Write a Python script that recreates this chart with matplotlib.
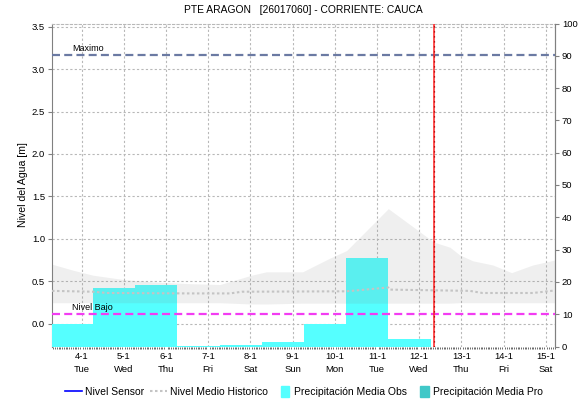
import datetime
import matplotlib
matplotlib.use("Agg")
import matplotlib.pyplot as plt
from matplotlib.lines import Line2D
from matplotlib.patches import Patch, Rectangle
from matplotlib.legend_handler import HandlerPatch
from matplotlib.ticker import MultipleLocator, FixedLocator

plt.rcParams['font.family'] = ['Liberation Sans', 'DejaVu Sans']

# ---- data (x in days of January 2022) ----
station_title = "PTE ARAGON   [26017060] - CORRIENTE: CAUCA"
year, month = 2022, 1
days = [4, 5, 6, 7, 8, 9, 10, 11, 12, 13, 14, 15]

# daily precipitation (mm), each bar starts at the given time and lasts one day
precip_start = [3.27, 4.27, 5.27, 6.27, 7.27, 8.27, 9.27, 10.27, 11.27]
precip_obs = [7.0, 18.2, 18.9, 0.3, 0.6, 1.3, 7.1, 27.3, 2.2]

# historical range of water level (m)
band_t = [3.30, 3.79, 4.27, 4.98, 5.70, 6.57, 7.28, 8.03, 8.38, 9.24, 9.88,
          10.28, 11.27, 12.35, 12.73, 12.96, 13.27, 13.75, 14.19, 14.69, 15.22]
band_hi = [0.70, 0.63, 0.57, 0.52, 0.49, 0.47, 0.46, 0.57, 0.61, 0.61, 0.77,
           0.86, 1.355, 0.96, 0.90, 0.81, 0.74, 0.69, 0.60, 0.69, 0.75]
band_lo = [0.245, 0.245, 0.245, 0.245, 0.245, 0.245, 0.245, 0.23, 0.23, 0.24, 0.24,
           0.24, 0.24, 0.24, 0.24, 0.245, 0.245, 0.245, 0.245, 0.245, 0.245]

# historical mean water level (m)
mean_t = [3.30, 4.27, 4.60, 6.57, 7.52, 7.80, 10.28, 11.27, 11.30, 13.20, 13.50, 14.70, 15.22]
mean_lvl = [0.385, 0.375, 0.36, 0.355, 0.355, 0.375, 0.38, 0.425, 0.40, 0.385, 0.36, 0.36, 0.39]

nivel_maximo = 3.17
nivel_bajo = 0.11
now_t = 12.35

x_range = (3.30, 15.22)
left_lim = (-0.271, 3.538)
right_lim = (0, 100)

# ---- figure ----
fig = plt.figure(figsize=(5.79, 4.01), dpi=100)
W, H = 579, 401
pos = [52 / W, 1 - 346.5 / H, (555 - 52) / W, (346.5 - 23.5) / H]

ax = fig.add_axes(pos)            # level axis (left), grid
axp = ax.twinx()                  # precipitation (right)
axo = ax.twinx()                  # overlay in level units

grid_kw = dict(color='#b8b8b8', lw=0.8, ls=(0, (2, 2)))

ax.set_xlim(*x_range)
ax.set_ylim(*left_lim)
ax.set_yticks([v * 0.5 for v in range(0, 8)])
ax.yaxis.set_major_formatter(matplotlib.ticker.FormatStrFormatter('%.1f'))
ax.grid(True, which='major', **grid_kw)
ax.set_axisbelow(True)

ax.xaxis.set_major_locator(FixedLocator(days))
labels = [f"{d}-{month}\n{datetime.date(year, month, d).strftime('%a')}" for d in days]
ax.set_xticklabels(labels, fontsize=6.8, linespacing=1.55)
ax.xaxis.set_minor_locator(MultipleLocator(1 / 24))
ax.tick_params(axis='x', which='major', length=0, pad=4)
ax.tick_params(axis='x', which='minor', length=1.6, width=0.55, color='#444444', direction='out')
ax.tick_params(axis='y', labelsize=6.8, length=3, width=0.8, color='#808080', pad=2)
ax.set_ylabel("Nivel del Agua [m]", fontsize=7.6, labelpad=2.5)

for side in ('left', 'right'):
    ax.spines[side].set_color('#808080')
ax.spines['bottom'].set_visible(False)
ax.spines['top'].set_color('#b8b8b8')
ax.spines['top'].set_linestyle((0, (2, 2)))
ax.spines['top'].set_linewidth(0.8)

# precipitation bars
axp.set_ylim(*right_lim)
axp.set_yticks(range(0, 101, 10))
axp.tick_params(axis='y', labelsize=6.8, length=3, width=0.8, color='#808080', pad=2)
axp.bar(precip_start, precip_obs, width=1.0, align='edge', color='#55ffff', linewidth=0)
for s in axp.spines.values():
    s.set_visible(False)
axp.spines['right'].set_visible(True)
axp.spines['right'].set_color('#808080')
axp.patch.set_visible(False)

# overlay: historical band, mean, thresholds, current time
axo.set_ylim(*left_lim)
axo.yaxis.set_visible(False)
for s in axo.spines.values():
    s.set_visible(False)
axo.patch.set_visible(False)
axo.fill_between(band_t, band_lo, band_hi, color='#808080', alpha=0.12, linewidth=0)
axo.plot(mean_t, mean_lvl, color='#c4c4c4', lw=1.5, ls=(0, (1.2, 1.2)))
axo.axhline(nivel_maximo, color='#6b7aa3', lw=1.6, ls=(0, (3.6, 1.9)))
axo.axhline(nivel_bajo, color='#f23cf2', lw=1.6, ls=(0, (3.6, 1.9)))
axo.text(3.78, nivel_maximo + 0.025, "Maximo", fontsize=6.5, va='bottom', ha='left')
axo.text(3.78, nivel_bajo + 0.02, "Nivel Bajo", fontsize=6.5, va='bottom', ha='left')
axo.axvline(now_t, color='#ff2020', lw=1.1)
axo.axvline(now_t, color='#a00000', lw=0.9, ls=(0, (1, 3)))

fig.text(303.5 / W, 1 - 10 / H, station_title, ha='center', va='center', fontsize=7.4)


def narrow_patch(legend, orig_handle, xdescent, ydescent, width, height, fontsize):
    return Rectangle((width - 7, -ydescent - 1.5), 6, height + 3)


handles = [
    Line2D([], [], color='#0000ff', lw=1.2),
    Line2D([], [], color='#c4c4c4', lw=1.5, ls=(0, (1.2, 1.2))),
    Patch(color='#55ffff'),
    Patch(color='#40c8c8'),
]
names = ["Nivel Sensor", "Nivel Medio Historico",
         "Precipitación Media Obs", "Precipitación Media Pro"]
fig.legend(handles, names, loc='center', bbox_to_anchor=(304 / W, 1 - 392 / H),
           ncol=4, frameon=False, fontsize=7.5, handlelength=1.6,
           handletextpad=0.3, columnspacing=0.6,
           handler_map={Patch: HandlerPatch(patch_func=narrow_patch)})

fig.savefig("out.png", dpi=100)
